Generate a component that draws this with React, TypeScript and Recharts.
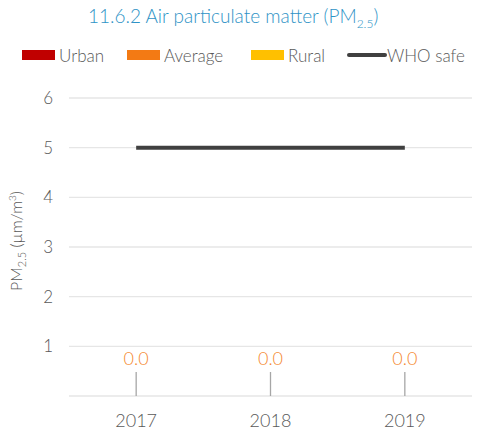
import React from 'react';
import { ComposedChart, Bar, Line, XAxis, YAxis, CartesianGrid } from 'recharts';

const years = ['2017', '2018', '2019'];
const urban = [0, 0, 0];
const average = [0, 0, 0];
const rural = [0, 0, 0];
const whoSafe = [5, 5, 5];
const yTicks = [1, 2, 3, 4, 5, 6];
const boundaryTicks = [0, 1, 2, 3];

const data = years.map((y, i) => ({
  year: y,
  urban: urban[i],
  average: average[i],
  rural: rural[i],
  who: whoSafe[i],
}));

const FONT = 'Lato, "Open Sans", sans-serif';
const W = 300;
const GRAY = '#595959';
const C_URBAN = '#C00000';
const C_AVG = '#F37A14';
const C_RURAL = '#FFC000';
const C_WHO = '#404040';

const AvgLabel = (props: any) => {
  const { x, y, value } = props;
  if (x == null || y == null) return null;
  return (
    <g>
      <line x1={x} x2={x} y1={y} y2={y - 24} stroke="#A6A6A6" strokeWidth={1.3} />
      <text x={x} y={y - 31} textAnchor="middle" fill="#F5892F" fontSize={18} fontWeight={W} fontFamily={FONT}>
        {Number(value).toFixed(1)}
      </text>
    </g>
  );
};

const YLabel = (props: any) => {
  const vb = props.viewBox || {};
  const cx = 22;
  const cy = vb.y + vb.height / 2 - 6;
  return (
    <text
      transform={`translate(${cx},${cy}) rotate(-90)`}
      textAnchor="middle"
      fill={GRAY}
      fontSize={16}
      fontWeight={W}
      fontFamily={FONT}
    >
      PM<tspan fontSize={11} dy={4}>2.5</tspan>
      <tspan dy={-4}> (µm/m</tspan>
      <tspan fontSize={10} dy={-6}>3</tspan>
      <tspan dy={6}>)</tspan>
    </text>
  );
};

const legendItems = [
  { label: 'Urban', color: C_URBAN, left: 22, line: false },
  { label: 'Average', color: C_AVG, left: 127, line: false },
  { label: 'Rural', color: C_RURAL, left: 251, line: false },
  { label: 'WHO safe', color: C_WHO, left: 347, line: true },
];

export default function App() {
  return (
    <div style={{ position: 'absolute', left: 0, top: 0, width: 479, height: 436, background: '#fff' }}>
      <div
        style={{
          position: 'absolute',
          left: 88,
          top: 4,
          color: '#2E93C6',
          fontSize: 19,
          fontWeight: W,
          fontFamily: FONT,
          whiteSpace: 'nowrap',
        }}
      >
        11.6.2 Air particulate matter (PM<sub style={{ fontSize: 12 }}>2.5</sub>)
      </div>
      {legendItems.map((it) => (
        <div
          key={it.label}
          style={{ position: 'absolute', left: it.left, top: 44, display: 'flex', alignItems: 'center', height: 22 }}
        >
          {it.line ? (
            <div style={{ width: 40, height: 4, borderRadius: 2, background: it.color }} />
          ) : (
            <div style={{ width: 33, height: 10, background: it.color, marginRight: 4 }} />
          )}
          <span style={{ color: GRAY, fontSize: 17, fontWeight: W, fontFamily: FONT }}>{it.label}</span>
        </div>
      ))}
      <ComposedChart
        width={479}
        height={436}
        data={data}
        margin={{ top: 98, right: 7, bottom: 10, left: 9 }}
        barCategoryGap="30%"
      >
        <CartesianGrid vertical={false} stroke="#E6E6E6" strokeWidth={1.3} />
        <XAxis
          xAxisId="edge"
          type="number"
          domain={[0, 3]}
          ticks={boundaryTicks}
          height={0}
          axisLine={{ stroke: '#D9D9D9', strokeWidth: 1.3 }}
          tickLine={{ stroke: '#D9D9D9', strokeWidth: 1.3 }}
          tickSize={7}
          tickFormatter={() => ''}
          allowDataOverflow
        />
        <XAxis
          xAxisId="cat"
          dataKey="year"
          axisLine={false}
          tickLine={false}
          height={30}
          tickMargin={12}
          tick={{ fill: GRAY, fontSize: 18, fontWeight: W, fontFamily: FONT }}
        />
        <YAxis
          domain={[0, 6]}
          ticks={yTicks}
          width={60}
          axisLine={false}
          tickLine={false}
          tickMargin={10}
          tick={{ fill: GRAY, fontSize: 17, fontWeight: W, fontFamily: FONT }}
          label={<YLabel />}
        />
        <Bar xAxisId="cat" dataKey="urban" fill={C_URBAN} isAnimationActive={false} />
        <Bar xAxisId="cat" dataKey="average" fill={C_AVG} isAnimationActive={false} />
        <Bar xAxisId="cat" dataKey="rural" fill={C_RURAL} isAnimationActive={false} />
        <Line
          xAxisId="cat"
          dataKey="average"
          stroke="none"
          dot={false}
          activeDot={false}
          legendType="none"
          isAnimationActive={false}
          label={<AvgLabel />}
        />
        <Line
          xAxisId="cat"
          dataKey="who"
          stroke={C_WHO}
          strokeWidth={4}
          dot={false}
          isAnimationActive={false}
        />
      </ComposedChart>
    </div>
  );
}
